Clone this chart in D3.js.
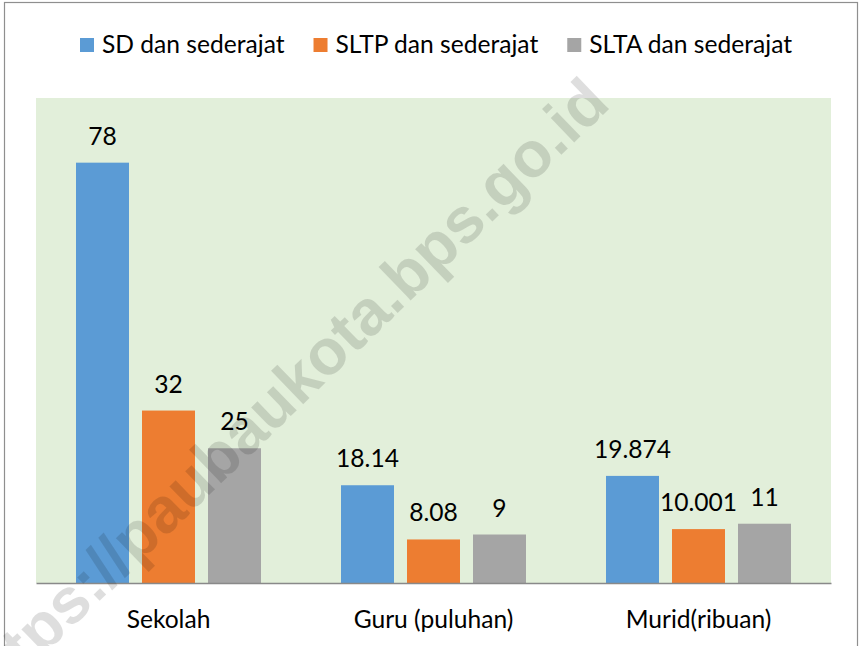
<!DOCTYPE html>
<html>
<head>
<meta charset="utf-8">
<script src="https://cdn.jsdelivr.net/npm/d3@7"></script>
<style>
  html, body { margin: 0; padding: 0; background: #ffffff; }
  svg { display: block; }
</style>
</head>
<body>
<svg id="chart" width="860" height="646"></svg>
<script>
// ---- data ----
const categories = ["Sekolah", "Guru (puluhan)", "Murid(ribuan)"];
const seriesNames = ["SD dan sederajat", "SLTP dan sederajat", "SLTA dan sederajat"];
const sdValues = [78, 18.14, 19.874];
const sltpValues = [32, 8.08, 10.001];
const sltaValues = [25, 9, 11];
const seriesColors = ["#5B9BD5", "#ED7D31", "#A5A5A5"];
const yDomainMax = 90;
const watermarkText = "https://paubaukota.bps.go.id";

const seriesValues = [sdValues, sltpValues, sltaValues];

// ---- layout ----
const W = 860, H = 646;
const plot = { left: 36, right: 831, top: 98, bottom: 583 };
const FONT = "Lato, 'Open Sans', sans-serif";
const FS = 24.6;

const svg = d3.select("#chart");

// outer frame
svg.append("rect")
  .attr("x", 4.5).attr("y", 2.5)
  .attr("width", 853).attr("height", 660)
  .attr("fill", "#ffffff")
  .attr("stroke", "#8f8f8f").attr("stroke-width", 1.2);

// plot background
svg.append("rect")
  .attr("x", plot.left).attr("y", plot.top)
  .attr("width", plot.right - plot.left).attr("height", plot.bottom - plot.top)
  .attr("fill", "#E2EFDA");

// scales
const x0 = d3.scaleBand().domain(categories).range([plot.left, plot.right]).padding(0);
const x1 = d3.scaleBand().domain(seriesNames).range([40, x0.bandwidth() - 40]).paddingInner(13 / 66).paddingOuter(0);
const y = d3.scaleLinear().domain([0, yDomainMax]).range([plot.bottom, plot.top]);

// data table
const rows = categories.map((c, ci) => ({
  category: c,
  values: seriesNames.map((s, si) => ({ series: s, si, value: seriesValues[si][ci] }))
}));

const groups = svg.append("g").selectAll("g")
  .data(rows).join("g")
  .attr("transform", d => `translate(${x0(d.category)},0)`);

groups.selectAll("rect")
  .data(d => d.values).join("rect")
  .attr("x", d => x1(d.series))
  .attr("y", d => y(d.value))
  .attr("width", x1.bandwidth())
  .attr("height", d => y(0) - y(d.value))
  .attr("fill", d => seriesColors[d.si]);

groups.selectAll("text")
  .data(d => d.values).join("text")
  .attr("x", d => x1(d.series) + x1.bandwidth() / 2)
  .attr("y", d => y(d.value) - 18)
  .attr("text-anchor", "middle")
  .attr("font-family", FONT).attr("font-size", FS)
  .attr("fill", "#000000")
  .text(d => String(d.value));

// x axis
const xAxis = svg.append("g")
  .attr("transform", `translate(0,${plot.bottom})`)
  .call(d3.axisBottom(x0).tickSize(0).tickPadding(28));
xAxis.select(".domain").attr("stroke", "#898989").attr("stroke-width", 1.5);
xAxis.selectAll("text")
  .attr("font-family", FONT).attr("font-size", FS)
  .attr("fill", "#000000").attr("dy", "0.71em");

// legend
const legend = svg.append("g");
let lx = 80;
seriesNames.forEach((name, i) => {
  const g = legend.append("g").attr("transform", `translate(${lx},0)`);
  g.append("rect").attr("x", 0).attr("y", 38).attr("width", 14).attr("height", 14)
    .attr("fill", seriesColors[i]);
  const t = g.append("text").attr("x", 22).attr("y", 53)
    .attr("font-family", FONT).attr("font-size", FS).attr("fill", "#000000")
    .text(name);
  const w = t.node().getComputedTextLength();
  lx += 22 + w + 29;
});

// watermark (clipped to the frame like the source image)
svg.append("clipPath").attr("id", "frameClip")
  .append("rect").attr("x", 0).attr("y", 0).attr("width", W).attr("height", H);
svg.append("g").attr("clip-path", "url(#frameClip)")
  .append("text")
  .attr("transform", "translate(612,106) rotate(-44)")
  .attr("text-anchor", "end")
  .attr("font-family", "'Liberation Sans', Arial, sans-serif")
  .attr("font-weight", "bold")
  .attr("font-size", 64)
  .attr("fill", "#000000").attr("fill-opacity", 0.13)
  .text(watermarkText);
</script>
</body>
</html>
